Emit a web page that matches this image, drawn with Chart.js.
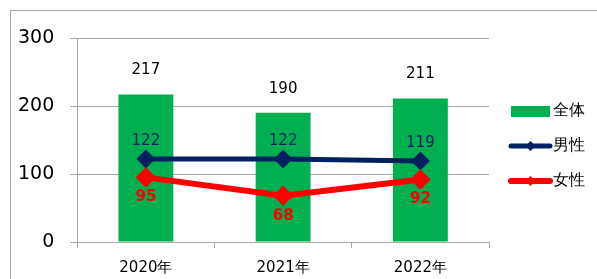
<!DOCTYPE html>
<html>
<head>
<meta charset="utf-8">
<script src="https://cdn.jsdelivr.net/npm/chart.js@4/dist/chart.umd.min.js"></script>
<style>
  html, body { margin: 0; padding: 0; background: #fff; }
  #wrap { width: 597px; height: 279px; }
</style>
</head>
<body>
<div id="wrap"><canvas id="chart" width="597" height="279"></canvas></div>
<script>
const years = ["2020年", "2021年", "2022年"];
const total = [217, 190, 211];
const male = [122, 122, 119];
const female = [95, 68, 92];
const yTicks = [0, 100, 200, 300];

const FONT = "'DejaVu Sans', Verdana, sans-serif";
const GREEN = "#00B050";
const NAVY = "#002060";
const RED = "#FF0000";
const GRID = "#A6A6A6";

// frame around the whole chart
const framePlugin = {
  id: "frame",
  beforeDraw(chart) {
    const ctx = chart.ctx;
    ctx.save();
    ctx.strokeStyle = "#A6A6A6";
    ctx.lineWidth = 1;
    ctx.strokeRect(10.5, 10.5, 700, 400);
    ctx.restore();
  }
};

// value labels above / below the marks
const labelPlugin = {
  id: "valueLabels",
  afterDatasetsDraw(chart) {
    const ctx = chart.ctx;
    ctx.save();
    ctx.textAlign = "center";
    ctx.textBaseline = "middle";
    chart.data.datasets.forEach((ds, i) => {
      const meta = chart.getDatasetMeta(i);
      meta.data.forEach((el, j) => {
        let dy, font;
        if (ds.label === "全体") { dy = -24; font = "15px " + FONT; ctx.fillStyle = "#000"; }
        else if (ds.label === "男性") { dy = -18; font = "15px " + FONT; ctx.fillStyle = NAVY; }
        else { dy = 20; font = "bold 15px " + FONT; ctx.fillStyle = RED; }
        ctx.font = font;
        ctx.fillText(String(ds.data[j]), el.x, el.y + dy);
      });
    });
    ctx.restore();
  }
};

// legend on the right: box for bars, line + diamond for lines
const legendPlugin = {
  id: "sideLegend",
  afterDraw(chart) {
    const ctx = chart.ctx;
    const x0 = 511, x1 = 550, tx = 553;
    const rows = [111, 146, 181];
    ctx.save();
    ctx.font = "16px " + FONT;
    ctx.textBaseline = "middle";
    ctx.fillStyle = "#000";
    chart.data.datasets.forEach((ds, i) => {
      const y = rows[i];
      if (ds.type === "bar") {
        ctx.fillStyle = GREEN;
        ctx.fillRect(x0, y - 5, x1 - x0, 11);
      } else {
        ctx.strokeStyle = ds.borderColor;
        ctx.lineWidth = ds.borderWidth;
        ctx.lineCap = "round";
        ctx.beginPath();
        ctx.moveTo(x0, y);
        ctx.lineTo(x1, y);
        ctx.stroke();
        ctx.fillStyle = ds.borderColor;
        const cx = (x0 + x1) / 2, r = 5;
        ctx.beginPath();
        ctx.moveTo(cx, y - r);
        ctx.lineTo(cx + r, y);
        ctx.lineTo(cx, y + r);
        ctx.lineTo(cx - r, y);
        ctx.closePath();
        ctx.fill();
      }
      ctx.fillStyle = "#000";
      ctx.fillText(ds.label, tx, y);
    });
    ctx.restore();
  }
};

new Chart(document.getElementById("chart"), {
  data: {
    labels: years,
    datasets: [
      {
        type: "bar", label: "全体", data: total,
        backgroundColor: GREEN, borderWidth: 0,
        barPercentage: 0.4, categoryPercentage: 1.0, order: 3
      },
      {
        type: "line", label: "男性", data: male,
        borderColor: NAVY, backgroundColor: NAVY, borderWidth: 5,
        pointStyle: "rectRot", pointRadius: 6, pointHoverRadius: 6,
        tension: 0, order: 2
      },
      {
        type: "line", label: "女性", data: female,
        borderColor: RED, backgroundColor: RED, borderWidth: 6,
        pointStyle: "rectRot", pointRadius: 6, pointHoverRadius: 6,
        tension: 0, order: 1
      }
    ]
  },
  options: {
    responsive: false,
    animation: false,
    layout: { padding: { left: 2, right: 108, top: 38, bottom: 0 } },
    plugins: {
      legend: { display: false },
      tooltip: { enabled: false }
    },
    scales: {
      x: {
        offset: true,
        afterFit(axis) { axis.height = 37; },
        grid: { offset: true, drawOnChartArea: false, color: GRID, tickLength: 6 },
        border: { color: GRID, width: 1 },
        ticks: { color: "#000", font: { family: FONT, size: 15 }, padding: 11 }
      },
      y: {
        min: 0, max: 300,
        afterBuildTicks(axis) { axis.ticks = yTicks.map(v => ({ value: v })); },
        grid: { color: GRID, tickLength: 7 },
        border: { color: GRID, width: 1 },
        ticks: { color: "#000", font: { family: FONT, size: 19 }, padding: 16 }
      }
    }
  },
  plugins: [framePlugin, labelPlugin, legendPlugin]
});
</script>
</body>
</html>
